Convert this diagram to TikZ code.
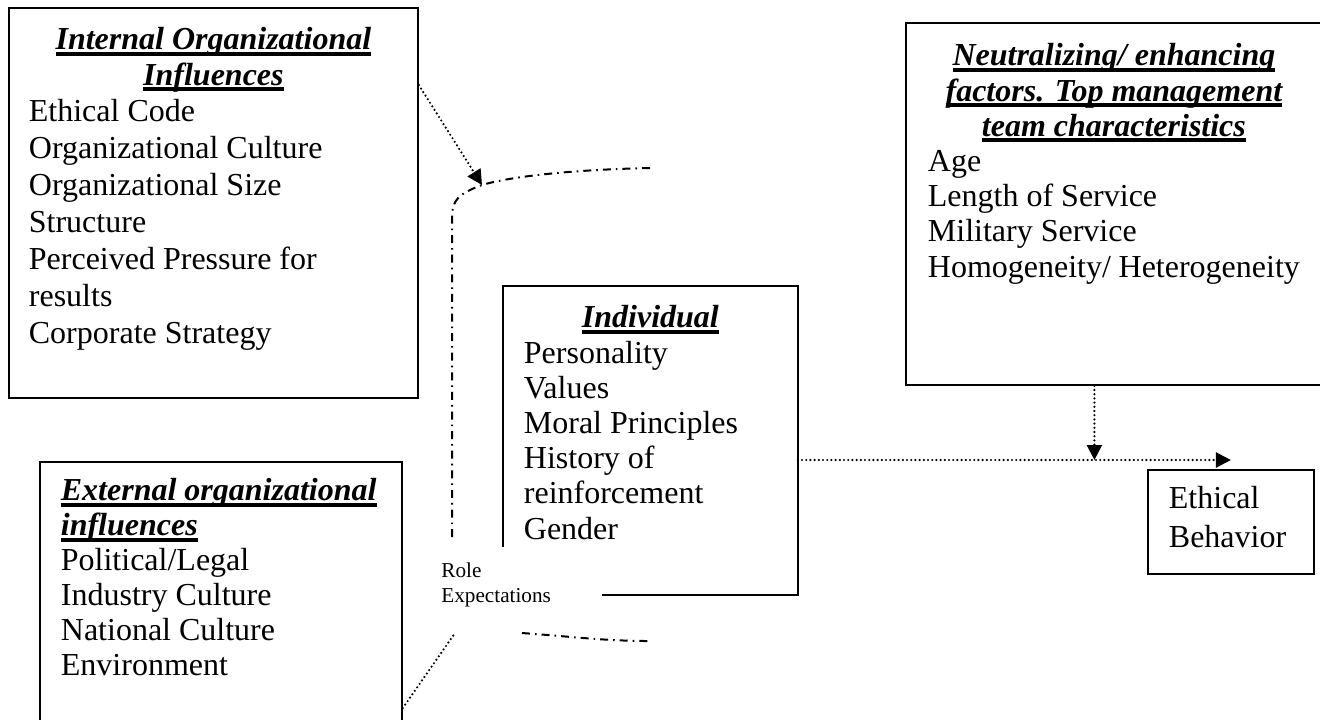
\documentclass[tikz,border=0pt]{standalone}
\usepackage{fontspec}
\setmainfont{Liberation Serif}
\usetikzlibrary{arrows.meta}
\newcommand{\boxhead}[1]{\leavevmode\setbox0\hbox{\bfseries\itshape #1}%
  \rlap{\rule[-2.9pt]{\wd0}{2pt}}\box0}

\begin{document}
\begin{tikzpicture}[x=0.5pt,y=-0.5pt,
    frame/.style={draw,line width=0.9pt,inner xsep=10pt,inner ysep=0pt,
      align=flush left,anchor=north west,font=\fontsize{16pt}{18.45pt}\selectfont},
    flow/.style={line width=1.2pt,line cap=round,dash pattern=on 0pt off 2.1pt,
      -{Triangle[length=7.5pt,width=7.5pt]}},
    link/.style={line width=1.2pt,line cap=round,dash pattern=on 0pt off 2.1pt},
    role/.style={line width=1pt,dash pattern=on 4pt off 2.5pt on 0.8pt off 2.5pt}]
  \clip (0,0) rectangle (1320,719);

  % boxes
  \node[frame,text width=184.5pt,text height=21pt,text depth=174pt] (internal) at (8,7)
    {{\centering\boxhead{Internal Organizational}\\[-0.9pt]\boxhead{Influences}\par}
     Ethical Code\\Organizational Culture\\Organizational Size\\Structure\\
     Perceived Pressure for\\results\\Corporate Strategy};
  \node[frame,text width=186pt,inner xsep=11pt,text height=21.5pt,text depth=159.5pt,
    font=\fontsize{16pt}{17.6pt}\selectfont] (neutral) at (905,22)
    {{\centering\boxhead{Neutralizing/ enhancing}\\\boxhead{factors. Top management}\\
      \boxhead{team characteristics}\par}
     Age\\Length of Service\\Military Service\\Homogeneity/ Heterogeneity};
  \node[frame,draw=none,text width=126.5pt,text height=20.5pt,text depth=133pt,
    font=\fontsize{16pt}{17.6pt}\selectfont] (indiv) at (503,286)
    {{\centering\boxhead{Individual}\par}
     Personality\\Values\\Moral Principles\\History of\\reinforcement\\Gender};
  \node[frame,text width=160pt,inner xsep=10.5pt,text height=19.5pt,text depth=112.5pt,
    font=\fontsize{16pt}{17.5pt}\selectfont] (external) at (39,461)
    {\boxhead{External organizational}\\\boxhead{influences}\\
     Political/Legal\\Industry Culture\\National Culture\\Environment};
  \node[frame,text width=62pt,inner xsep=10.5pt,text height=19.5pt,text depth=32.5pt,
    font=\fontsize{16pt}{19.2pt}\selectfont] (ethical) at (1147,469)
    {Ethical\\Behavior};
  \node[text width=60pt,anchor=base west,inner sep=0pt,align=flush left,
    font=\fontsize{10.6pt}{12.5pt}\selectfont] (role) at (441,577) {Role\\Expectations};

  % open frame of the individual box
  \draw[line width=0.9pt] ([yshift=24pt]indiv.south west) -- (indiv.north west)
    -- (indiv.north east) -- (indiv.south east) -- ([xshift=49.5pt]indiv.south west);

  % role expectations bracket
  \coordinate (bktop) at (482,185);
  \coordinate (bkbot) at (455,633);
  \draw[role] (650,168) .. controls (560,170) and (505,178) .. (bktop)
    .. controls (458,194) and (452,200) .. (452,218) -- (452,538);
  \draw[role] (522,633) .. controls (565,636) and (605,641) .. (648,641);

  % influences
  \draw[flow] ([yshift=-39pt]internal.north east) -- (bktop);
  \draw[link] ([yshift=-123.5pt]external.north east) -- (bkbot);
  \coordinate (indivout) at ([yshift=-87pt]indiv.north east);
  \path (neutral.south) ++(-19.5,0) coordinate (drop);
  \draw[flow] (indivout) -- (indivout -| ethical.north);
  \draw[flow] (drop) -- (drop |- indivout);
\end{tikzpicture}
\end{document}
